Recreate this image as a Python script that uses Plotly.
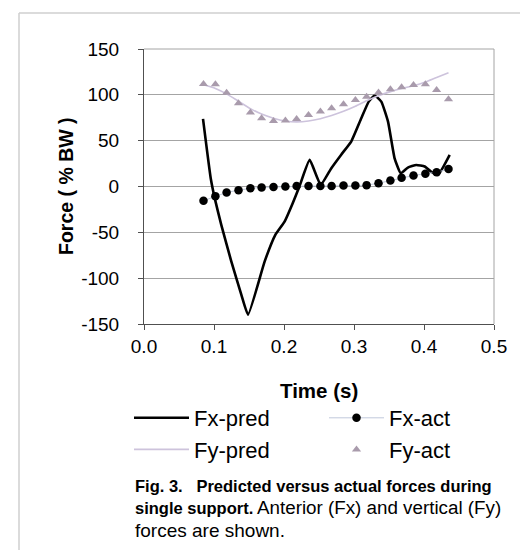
import plotly.graph_objects as go

# ---------------- data ----------------
t_act = [0.085, 0.102, 0.118, 0.135, 0.152, 0.168, 0.185, 0.202, 0.218, 0.235, 0.252,
         0.268, 0.285, 0.302, 0.318, 0.335, 0.352, 0.368, 0.385, 0.402, 0.418, 0.435]

fx_act = [-15.5, -10.5, -6.5, -4, -2, -1, -0.5, 0, 0.5, 0.5, 0.5,
          0.5, 1, 1, 1.5, 3.5, 6.5, 9.5, 12, 14, 15.5, 19]

fy_act = [111.8, 111.5, 102.4, 90.8, 80.6, 74.4, 71.5, 72, 73.7, 78, 81.7,
          85.3, 89.7, 94.4, 98, 102.6, 106, 108.4, 110.7, 111.5, 105.3, 95.1]

fy_pred = [111, 107, 101, 93, 85, 79, 74.5, 71.5, 70.5, 71.5, 74,
           77.5, 82, 87.5, 93.5, 99, 103.5, 107, 110, 114, 119, 124]

t_fx_pred = [0.0843, 0.0953, 0.101, 0.1104, 0.1247, 0.139, 0.1486, 0.1724,
             0.1876, 0.201, 0.212, 0.222, 0.2367, 0.2524, 0.2676, 0.282, 0.296,
             0.3104, 0.321, 0.3295, 0.339, 0.3486, 0.358, 0.3667, 0.377, 0.389,
             0.401, 0.41, 0.42, 0.4367]
fx_pred = [73.7, 9, -12.7, -41.8, -81.7, -118, -139.9, -81.7,
           -52.7, -38, -19, 0, 29, 1.8, 20, 35, 49,
           74.4, 92.6, 99.2, 92.6, 70.8, 30.8, 14.5, 20.7, 23.5,
           21.8, 16.3, 12.6, 34.4]

x_ticks = [0.0, 0.1, 0.2, 0.3, 0.4, 0.5]
x_tick_text = ["0.0", "0.1", "0.2", "0.3", "0.4", "0.5"]
y_ticks = [-150, -100, -50, 0, 50, 100, 150]
y_tick_text = ["-150", "-100", "-50", "0", "50", "100", "150"]

# ---------------- layout geometry ----------------
W, H = 528, 550
L, R, T, B = 136, 42, 41, 234
PW, PH = W - L - R, H - T - B


def px(x):
    return (x - L) / PW


def py(y):
    return (H - B - y) / PH


FONT = "Liberation Sans, Arial, sans-serif"
NB = "\u00a0"

fig = go.Figure()
fig.add_trace(go.Scatter(x=t_fx_pred, y=fx_pred, name="Fx-pred", mode="lines",
                         line=dict(color="black", width=2.6, shape="spline", smoothing=0.4)))
fig.add_trace(go.Scatter(x=t_act, y=fx_act, name="Fx-act", mode="lines+markers",
                         line=dict(color="rgba(185,195,215,0.9)", width=1),
                         marker=dict(color="black", size=8.5, symbol="circle")))
fig.add_trace(go.Scatter(x=t_act, y=fy_pred, name="Fy-pred", mode="lines",
                         line=dict(color="#cdc3dc", width=1.6, shape="spline", smoothing=0.6)))
fig.add_trace(go.Scatter(x=t_act, y=fy_act, name="Fy-act", mode="markers",
                         marker=dict(color="#a99bac", size=8, symbol="triangle-up")))

fig.update_xaxes(range=[0, 0.5], tickvals=x_ticks, ticktext=x_tick_text,
                 showgrid=False, zeroline=False,
                 showline=True, linecolor="#505050", linewidth=1,
                 ticks="outside", ticklen=5, tickcolor="#505050",
                 tickfont=dict(family=FONT, size=19, color="black"),
                 ticklabelstandoff=0)
fig.update_yaxes(range=[-150, 150], tickvals=y_ticks, ticktext=y_tick_text,
                 showgrid=True, gridcolor="#a4a4a4", gridwidth=1, zeroline=False,
                 showline=True, linecolor="#505050", linewidth=1,
                 ticks="outside", ticklen=5, tickcolor="#505050",
                 tickfont=dict(family=FONT, size=19, color="black"),
                 ticklabelstandoff=15)

shapes = [
    # plot area top and right border
    dict(type="line", xref="paper", yref="paper", x0=0, x1=1, y0=1, y1=1,
         line=dict(color="#a4a4a4", width=1)),
    dict(type="line", xref="paper", yref="paper", x0=1, x1=1, y0=0, y1=1,
         line=dict(color="#a4a4a4", width=1)),
    # outer frame
    dict(type="line", xref="paper", yref="paper", x0=px(11), x1=px(522), y0=py(5), y1=py(5),
         line=dict(color="#cfcfcf", width=1.5)),
    dict(type="line", xref="paper", yref="paper", x0=px(11), x1=px(11), y0=py(5), y1=py(552),
         line=dict(color="#cfcfcf", width=1.5)),
    dict(type="line", xref="paper", yref="paper", x0=px(522), x1=px(522), y0=py(5), y1=py(552),
         line=dict(color="#cfcfcf", width=1.5)),
]

annotations = [
    dict(text="<b>Force ( % BW )</b>", xref="paper", yref="paper", x=px(58), y=py(178),
         textangle=-90, showarrow=False, xanchor="center", yanchor="middle",
         font=dict(family=FONT, size=19.5, color="black")),
    dict(text="<b>Time (s)</b>", xref="paper", yref="paper", x=px(311), y=py(382),
         showarrow=False, xanchor="center", yanchor="middle",
         font=dict(family=FONT, size=20.5, color="black")),
    dict(text="<b>Fig. 3." + NB * 3 + "Predicted versus actual forces during</b>",
         xref="paper", yref="paper", x=px(125), y=py(478),
         showarrow=False, xanchor="left", yanchor="middle",
         font=dict(family=FONT, size=16.5, color="black")),
    dict(text="<b>single support.</b>",
         xref="paper", yref="paper", x=px(125), y=py(500),
         showarrow=False, xanchor="left", yanchor="middle",
         font=dict(family=FONT, size=16.5, color="black")),
    dict(text="Anterior (Fx) and vertical (Fy)",
         xref="paper", yref="paper", x=px(247), y=py(500),
         showarrow=False, xanchor="left", yanchor="middle",
         font=dict(family=FONT, size=18.8, color="black")),
    dict(text="forces are shown.",
         xref="paper", yref="paper", x=px(125), y=py(522),
         showarrow=False, xanchor="left", yanchor="middle",
         font=dict(family=FONT, size=19, color="black")),
]

fig.update_layout(
    width=W, height=H,
    margin=dict(l=L, r=R, t=T, b=B, autoexpand=False),
    paper_bgcolor="white", plot_bgcolor="white",
    showlegend=True,
    legend=dict(orientation="h", x=px(121), y=py(389), xanchor="left", yanchor="top",
                entrywidth=125, entrywidthmode="pixels", itemwidth=55,
                font=dict(family=FONT, size=22, color="black"),
                bgcolor="rgba(0,0,0,0)", tracegroupgap=0),
    shapes=shapes,
    annotations=annotations,
)

fig.write_html("out.html")
